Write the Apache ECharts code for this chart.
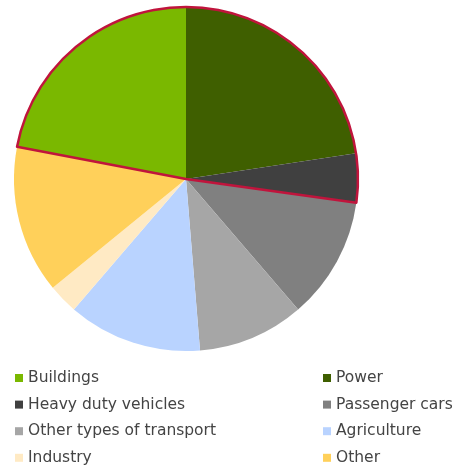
<!DOCTYPE html>
<html lang="en">
<head>
    <meta charset="UTF-8">
    <title>Emissions by sector</title>
    <script src="https://cdn.jsdelivr.net/npm/echarts@6/dist/echarts.min.js"></script>
    <style>
        html, body { margin: 0; padding: 0; background: #fff; }
    </style>
</head>
<body>
<div id="main" style="width: 461px;height:466px;"></div>

<script>
    // sectors in drawing order (clockwise from 12 o'clock)
    var sectors = ['Power', 'Heavy duty vehicles', 'Passenger cars', 'Other types of transport',
        'Agriculture', 'Industry', 'Other', 'Buildings'];
    var shares = [22.6, 4.6, 11.5, 10.0, 12.6, 2.8, 13.9, 22.0];
    var colors = ['#3f5f00', '#404040', '#808080', '#a6a6a6', '#b9d3ff', '#ffeac4', '#ffd05a', '#7ab800'];

    // legend, row by row: left column then right column
    var legendLeft = ['Buildings', 'Heavy duty vehicles', 'Other types of transport', 'Industry'];
    var legendRight = ['Power', 'Passenger cars', 'Agriculture', 'Other'];

    // red outline goes round Buildings + Power + Heavy duty vehicles
    var outlined = ['Buildings', 'Power', 'Heavy duty vehicles'];

    var myChart = echarts.init(document.getElementById('main'));

    var pieData = sectors.map(function (name, i) {
        return {name: name, value: shares[i], itemStyle: {color: colors[i]}};
    });

    var total = 0, groupSum = 0;
    shares.forEach(function (v, i) {
        total += v;
        if (outlined.indexOf(sectors[i]) >= 0) groupSum += v;
    });
    var buildingsDeg = shares[sectors.indexOf('Buildings')] / total * 360;

    // one small legend per entry so the two columns line up
    var legends = [];
    function addLegend(name, row, left) {
        legends.push({
            left: left,
            top: 370 + row * 26.6,
            padding: 0,
            itemWidth: 8,
            itemHeight: 8,
            icon: 'rect',
            selectedMode: false,
            data: [name],
            textStyle: {fontFamily: 'DejaVu Sans', fontSize: 15.5, lineHeight: 16, color: '#444'}
        });
    }
    legendLeft.forEach(function (n, i) { addLegend(n, i, 15); });
    legendRight.forEach(function (n, i) { addLegend(n, i, 323); });

    var option = {
        animation: false,
        legend: legends,
        series: [
            {
                type: 'pie',
                center: [186, 179],
                radius: [0, 172],
                startAngle: 90,
                label: {show: false},
                labelLine: {show: false},
                itemStyle: {borderWidth: 0},
                emphasis: {disabled: true},
                data: pieData
            },
            {
                type: 'pie',
                silent: true,
                center: [186, 179],
                radius: [0, 172],
                startAngle: 90 + buildingsDeg,
                label: {show: false},
                labelLine: {show: false},
                emphasis: {disabled: true},
                data: [
                    {name: 'group', value: groupSum,
                        itemStyle: {color: 'rgba(0,0,0,0)', borderColor: '#c0143c', borderWidth: 2.5}},
                    {name: 'rest', value: total - groupSum,
                        itemStyle: {color: 'rgba(0,0,0,0)', borderWidth: 0}}
                ]
            }
        ]
    };

    myChart.setOption(option);
</script>
</body>
</html>
